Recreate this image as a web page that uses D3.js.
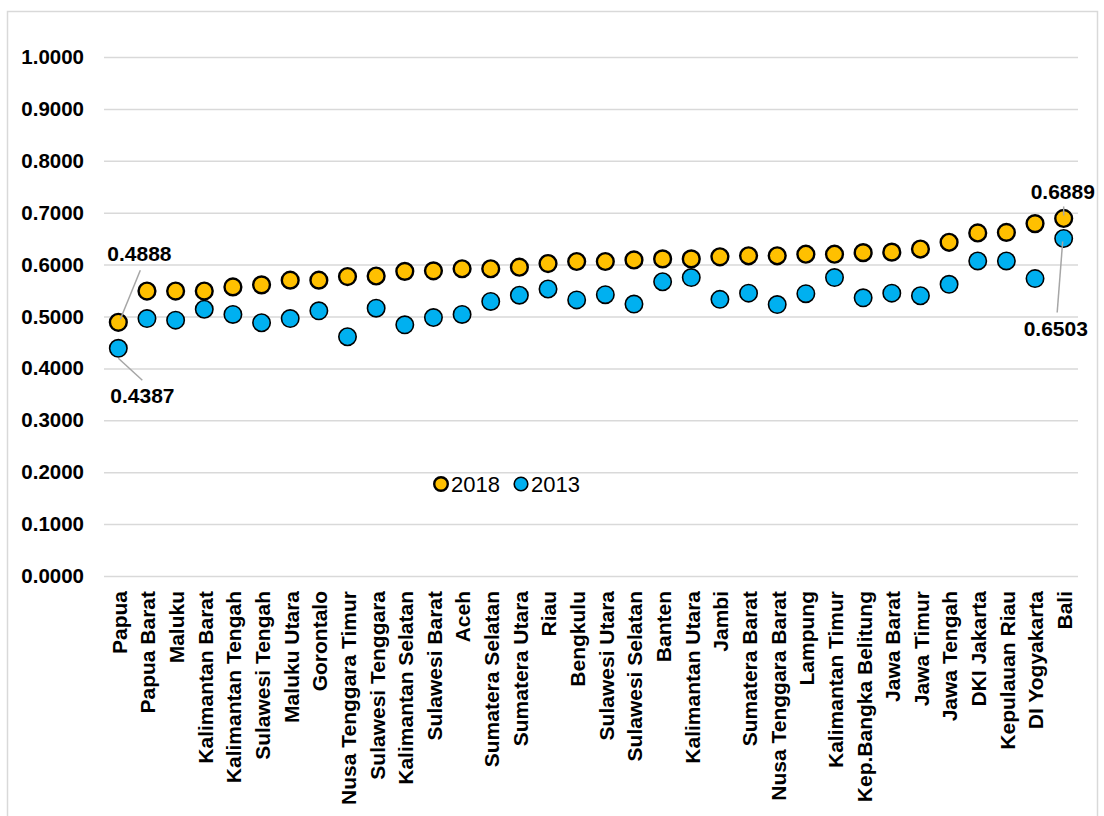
<!DOCTYPE html>
<html>
<head>
<meta charset="utf-8">
<script src="https://cdn.jsdelivr.net/npm/d3@7/dist/d3.min.js"></script>
<style>
  html, body { margin: 0; padding: 0; background: #fff; }
  svg { display: block; font-family: "Liberation Sans", Arial, sans-serif; }
</style>
</head>
<body>
<svg id="chart" width="1104" height="816"></svg>
<script>
const categories = ["Papua","Papua Barat","Maluku","Kalimantan Barat","Kalimantan Tengah","Sulawesi Tengah","Maluku Utara","Gorontalo","Nusa Tenggara Timur","Sulawesi Tenggara","Kalimantan Selatan","Sulawesi Barat","Aceh","Sumatera Selatan","Sumatera Utara","Riau","Bengkulu","Sulawesi Utara","Sulawesi Selatan","Banten","Kalimantan Utara","Jambi","Sumatera Barat","Nusa Tenggara Barat","Lampung","Kalimantan Timur","Kep.Bangka Belitung","Jawa Barat","Jawa Timur","Jawa Tengah","DKI Jakarta","Kepulauan Riau","DI Yogyakarta","Bali"];
const values2018 = [0.4888,0.549,0.549,0.549,0.557,0.561,0.570,0.570,0.577,0.578,0.587,0.588,0.592,0.592,0.595,0.602,0.606,0.606,0.609,0.611,0.611,0.615,0.617,0.617,0.620,0.620,0.623,0.624,0.630,0.643,0.661,0.662,0.679,0.6889];
const values2013 = [0.4387,0.496,0.493,0.514,0.504,0.488,0.496,0.511,0.461,0.516,0.484,0.498,0.504,0.529,0.541,0.553,0.532,0.542,0.524,0.567,0.575,0.533,0.545,0.523,0.544,0.575,0.536,0.545,0.540,0.562,0.607,0.607,0.573,0.6503];
const yTicks = [0,0.1,0.2,0.3,0.4,0.5,0.6,0.7,0.8,0.9,1.0];
const seriesNames = ["2018","2013"];
const seriesColors = ["#FFC000","#00B0F0"];

const svg = d3.select("#chart");
const FONT = 20.5;
const XFONT = 21;

// outer frame
svg.append("rect").attr("x",7.5).attr("y",11.5).attr("width",1090).attr("height",830)
  .attr("fill","none").attr("stroke","#d9d9d9").attr("stroke-width",1.5);

const x = d3.scaleBand().domain(categories).range([104,1078]);
const y = d3.scaleLinear().domain([0,1]).range([576,57]);
const cx = d => x(d) + x.bandwidth()/2;

// gridlines + y axis
const yAxis = d3.axisLeft(y).tickValues(yTicks).tickFormat(d3.format(".4f"))
  .tickSize(-(1078-104)).tickPadding(20);
const gy = svg.append("g").attr("transform","translate(104,0)").call(yAxis);
gy.select(".domain").remove();
gy.selectAll(".tick line").attr("stroke","#d9d9d9").attr("stroke-width",1.5);
gy.selectAll(".tick text").attr("font-size",FONT).attr("font-weight","bold")
  .attr("fill","#000").attr("font-family","'Liberation Sans', Arial, sans-serif");

// x axis labels
const xAxis = d3.axisBottom(x).tickSize(0).tickPadding(0);
const gx = svg.append("g").attr("transform","translate(0,576)").call(xAxis);
gx.select(".domain").remove();
gx.selectAll(".tick text")
  .attr("font-size",XFONT).attr("font-weight","bold").attr("fill","#000")
  .attr("font-family","'Liberation Sans', Arial, sans-serif")
  .attr("text-anchor","end")
  .attr("transform","translate(1,15) rotate(-90)")
  .attr("x",0).attr("y",0).attr("dy","0.35em");

// dots
const series = [values2018, values2013];
const strokeW = [2.4, 1.6];
const radii = [8.4, 8.7];
series.forEach((vals,i)=>{
  svg.append("g").selectAll("circle").data(vals).join("circle")
    .attr("cx",(d,j)=>cx(categories[j]))
    .attr("cy",d=>y(d))
    .attr("r",radii[i])
    .attr("fill",seriesColors[i])
    .attr("stroke","#000").attr("stroke-width",strokeW[i]);
});

// annotations
const last = categories.length-1;
const ann = [
  {i:0, v:values2018[0], tx:-11, ty:-61, lx1:22, ly1:-52, lx2:2, ly2:-3},
  {i:0, v:values2013[0], tx:-8, ty:55, lx1:0, ly1:10, lx2:24, ly2:32},
  {i:last, v:values2018[last], tx:-33, ty:-19, lx1:0, ly1:-12, lx2:0, ly2:-3},
  {i:last, v:values2013[last], tx:-40, ty:98, lx1:-6.5, ly1:74, lx2:-1, ly2:3}
];
ann.forEach(a=>{
  const px = cx(categories[a.i]), py = y(a.v);
  svg.append("line").attr("x1",px+a.lx1).attr("y1",py+a.ly1)
    .attr("x2",px+a.lx2).attr("y2",py+a.ly2)
    .attr("stroke","#a6a6a6").attr("stroke-width",1.5);
  svg.append("text").attr("x",px+a.tx).attr("y",py+a.ty)
    .attr("font-size",XFONT).attr("font-weight","bold").attr("fill","#000")
    .text(d3.format(".4f")(a.v));
});

// legend
const leg = svg.append("g");
const legX = [441, 521];
seriesNames.forEach((n,i)=>{
  leg.append("circle").attr("cx",legX[i]).attr("cy",484).attr("r",6.8)
    .attr("fill",seriesColors[i]).attr("stroke","#000").attr("stroke-width",strokeW[i]);
  leg.append("text").attr("x",legX[i]+10).attr("y",492)
    .attr("font-size",22).attr("fill","#000").text(n);
});
</script>
</body>
</html>
